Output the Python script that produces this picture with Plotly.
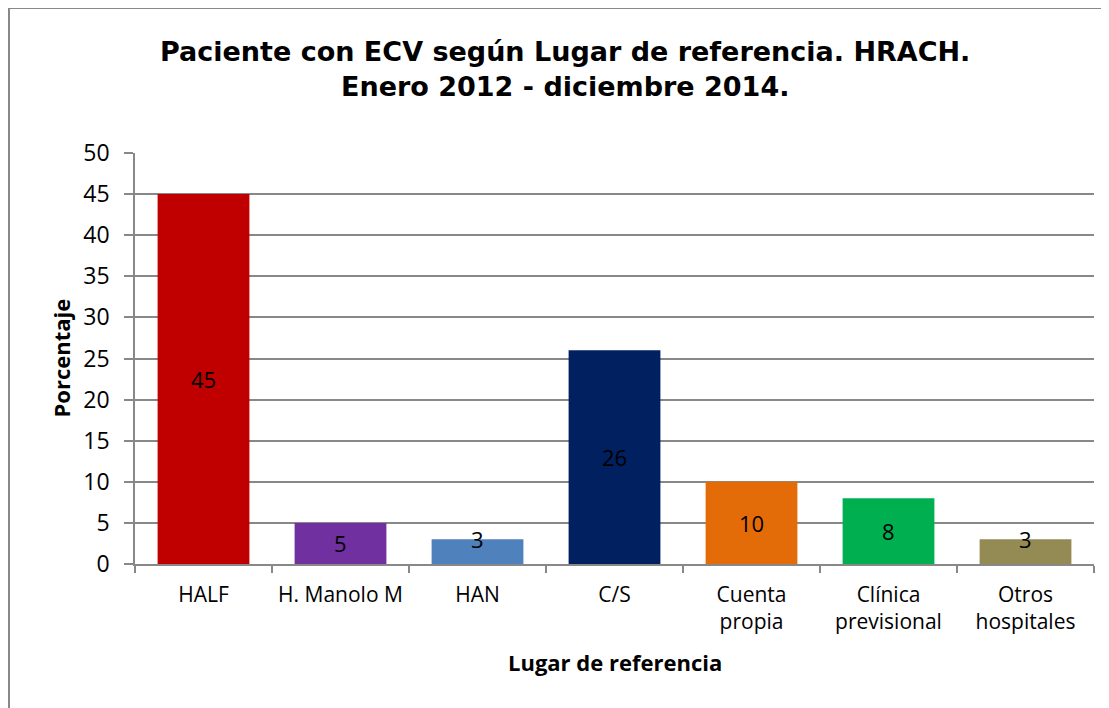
import plotly.graph_objects as go

categories = ["HALF", "H. Manolo M", "HAN", "C/S", "Cuenta<br>propia", "Clínica<br>previsional", "Otros<br>hospitales"]
values = [45, 5, 3, 26, 10, 8, 3]
colors = ["#C00000", "#7030A0", "#4F81BD", "#002060", "#E36C09", "#00B050", "#948A54"]
yticks = [0, 5, 10, 15, 20, 25, 30, 35, 40, 45, 50]
title_lines = ["Paciente con ECV según Lugar de referencia. HRACH.", "Enero 2012 - diciembre 2014."]

FONT = "Open Sans"
TFONT = "DejaVu Sans"
GRID = "#888888"
# page body has an 8px margin, so figure coordinates = screen - 8
W, H = 1101, 700
L, R, T, B = 127, 15, 145, 144
PW, PH = W - L - R, H - T - B


def px_x(p):
    return (p - L) / PW


def px_y(p):
    return (H - B - p) / PH


fig = go.Figure()
fig.add_trace(go.Bar(
    x=categories, y=values, marker=dict(color=colors, line=dict(width=0)),
    showlegend=False, hoverinfo="x+y",
))

annotations = []
for c, v in zip(categories, values):
    yy = v / 2 if v >= 5 else v
    annotations.append(dict(x=c, y=yy, xref="x", yref="y", text=str(v), showarrow=False,
                            font=dict(family=FONT, size=22, color="black"),
                            xanchor="center", yanchor="middle"))
for line, yc in zip(title_lines, [44, 79]):
    annotations.append(dict(x=px_x(557), y=px_y(yc), xref="paper", yref="paper", text="<b>" + line + "</b>",
                            showarrow=False, font=dict(family=TFONT, size=27, color="black"),
                            xanchor="center", yanchor="middle"))
annotations.append(dict(x=0.5, y=px_y(654), xref="paper", yref="paper", text="<b>Lugar de referencia</b>",
                        showarrow=False, font=dict(family=FONT, size=22, color="black"),
                        xanchor="center", yanchor="middle"))
annotations.append(dict(x=px_x(52), y=0.5, xref="paper", yref="paper", text="<b>Porcentaje</b>",
                        showarrow=False, textangle=-90, font=dict(family=FONT, size=22, color="black"),
                        xanchor="center", yanchor="middle"))

fig.update_layout(
    width=W, height=H,
    margin=dict(l=L, r=R, t=T, b=B, autoexpand=False),
    paper_bgcolor="white", plot_bgcolor="white",
    bargap=0.33,
    annotations=annotations,
    font=dict(family=FONT, color="black"),
)
fig.update_xaxes(
    type="category", showline=True, linecolor=GRID, linewidth=1.5, automargin=False,
    ticks="outside", tickson="boundaries", ticklen=7, tickcolor=GRID, tickwidth=1.5,
    ticklabelstandoff=11,
    tickfont=dict(family=FONT, size=21, color="black"),
    showgrid=False,
)
fig.update_yaxes(
    range=[0, 50], tickvals=yticks, showline=True, linecolor=GRID, linewidth=1.5, automargin=False,
    ticks="outside", ticklen=9, tickcolor=GRID, tickwidth=1.5, ticklabelstandoff=10,
    showgrid=True, gridcolor=GRID, gridwidth=1.5, zeroline=False,
    tickfont=dict(family=FONT, size=23, color="black"),
)
fig.add_shape(type="rect", xref="paper", yref="paper",
              x0=px_x(1), x1=px_x(1120), y0=px_y(720), y1=px_y(0),
              line=dict(color=GRID, width=2), fillcolor="rgba(0,0,0,0)", layer="below")

fig.write_html("out.html")
